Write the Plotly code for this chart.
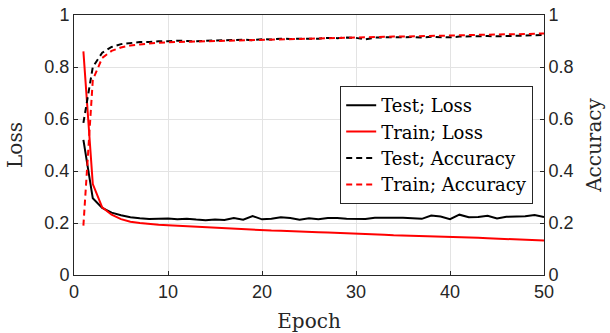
import plotly.graph_objects as go

epochs = list(range(1, 51))

test_loss = [0.52, 0.295, 0.258, 0.240, 0.230, 0.222, 0.218, 0.215, 0.216, 0.217,
             0.214, 0.216, 0.213, 0.211, 0.213, 0.212, 0.219, 0.213, 0.227, 0.214,
             0.216, 0.222, 0.219, 0.213, 0.218, 0.214, 0.219, 0.219, 0.216, 0.216,
             0.215, 0.220, 0.219, 0.220, 0.220, 0.219, 0.216, 0.229, 0.225, 0.215,
             0.232, 0.222, 0.223, 0.228, 0.217, 0.224, 0.225, 0.226, 0.231, 0.223]

train_loss = [0.86, 0.35, 0.26, 0.232, 0.215, 0.205, 0.200, 0.196, 0.193, 0.191,
              0.189, 0.187, 0.185, 0.183, 0.181, 0.179, 0.177, 0.176, 0.174, 0.173,
              0.171, 0.170, 0.168, 0.167, 0.165, 0.164, 0.163, 0.162, 0.161, 0.159,
              0.157, 0.156, 0.155, 0.153, 0.152, 0.151, 0.150, 0.149, 0.148, 0.147,
              0.145, 0.146, 0.143, 0.141, 0.140, 0.139, 0.138, 0.137, 0.135, 0.133]

test_acc = [0.585, 0.80, 0.855, 0.877, 0.888, 0.893, 0.896, 0.896, 0.899, 0.899,
            0.901, 0.900, 0.899, 0.901, 0.902, 0.901, 0.903, 0.905, 0.903, 0.907,
            0.906, 0.909, 0.908, 0.908, 0.910, 0.909, 0.912, 0.911, 0.913, 0.912,
            0.906, 0.913, 0.914, 0.913, 0.914, 0.915, 0.913, 0.916, 0.915, 0.914,
            0.917, 0.918, 0.917, 0.919, 0.918, 0.920, 0.920, 0.921, 0.922, 0.923]

train_acc = [0.19, 0.75, 0.835, 0.862, 0.875, 0.883, 0.887, 0.891, 0.893, 0.895,
             0.896, 0.897, 0.898, 0.899, 0.900, 0.901, 0.902, 0.903, 0.904, 0.905,
             0.906, 0.907, 0.908, 0.909, 0.910, 0.911, 0.911, 0.912, 0.913, 0.914,
             0.914, 0.915, 0.916, 0.917, 0.917, 0.918, 0.919, 0.920, 0.920, 0.921,
             0.922, 0.922, 0.923, 0.924, 0.925, 0.926, 0.926, 0.927, 0.928, 0.929]

x_ticks = [0, 10, 20, 30, 40, 50]
y_ticks = [0, 0.2, 0.4, 0.6, 0.8, 1]
y_tick_labels = ["0", "0.2", "0.4", "0.6", "0.8", "1"]

SERIF = "DejaVu Serif"
SANS = "Liberation Sans"
AXIS_COLOR = "#262626"
DASH = "6px,4px"

fig = go.Figure()
fig.add_trace(go.Scatter(x=epochs, y=test_loss, name="Test; Loss", mode="lines",
                         line=dict(color="black", width=2), yaxis="y"))
fig.add_trace(go.Scatter(x=epochs, y=train_loss, name="Train; Loss", mode="lines",
                         line=dict(color="#ff0000", width=2), yaxis="y"))
fig.add_trace(go.Scatter(x=epochs, y=test_acc, name="Test; Accuracy", mode="lines",
                         line=dict(color="black", width=2, dash=DASH), yaxis="y2"))
fig.add_trace(go.Scatter(x=epochs, y=train_acc, name="Train; Accuracy", mode="lines",
                         line=dict(color="#ff0000", width=2, dash=DASH), yaxis="y2"))

axis_common = dict(
    showline=True, linecolor=AXIS_COLOR, linewidth=1,
    ticks="inside", ticklen=4, tickcolor=AXIS_COLOR,
    tickfont=dict(family=SANS, size=18, color=AXIS_COLOR),
    zeroline=False, automargin=False,
)
title_font = dict(family=SERIF, size=20, color=AXIS_COLOR)

fig.update_layout(
    width=610, height=333,
    margin=dict(l=74, r=66, t=15, b=58),
    paper_bgcolor="white", plot_bgcolor="white",
    showlegend=True,
    legend=dict(
        x=0.977, y=0.727, xanchor="right", yanchor="top",
        bgcolor="white", bordercolor=AXIS_COLOR, borderwidth=1,
        font=dict(family=SERIF, size=18, color="black"),
        tracegroupgap=0,
    ),
    xaxis=dict(
        range=[0, 50], tickvals=x_ticks, mirror=True,
        showgrid=True, gridcolor="#e3e3e3", gridwidth=1,
        title=dict(text="Epoch", font=title_font, standoff=18),
        **axis_common,
    ),
    yaxis=dict(
        range=[0, 1], tickvals=y_ticks, ticktext=y_tick_labels,
        showgrid=True, gridcolor="#e3e3e3", gridwidth=1,
        title=dict(text="Loss", font=title_font, standoff=16),
        **axis_common,
    ),
    yaxis2=dict(
        range=[0, 1], tickvals=y_ticks, ticktext=y_tick_labels,
        overlaying="y", side="right", showgrid=False,
        title=dict(text="Accuracy", font=title_font, standoff=14),
        **axis_common,
    ),
)

fig.write_html("out.html")
